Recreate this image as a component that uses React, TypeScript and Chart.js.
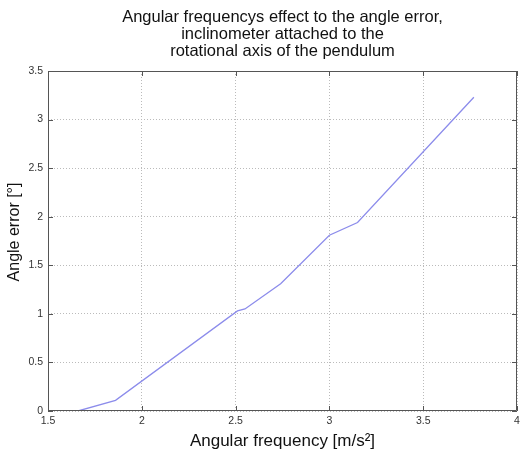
import React, { useEffect, useRef } from "react";
import { Chart, registerables } from "chart.js";

Chart.register(...registerables);

const titleLines = [
  "Angular frequencys effect to the angle error,",
  "inclinometer attached to the",
  "rotational axis of the pendulum",
];
const xLabel = "Angular frequency [m/s²]";
const yLabel = "Angle error [°]";

const frequency = [1.66, 1.86, 2.51, 2.55, 2.74, 3.0, 3.15, 3.77];
const angleError = [0, 0.11, 1.03, 1.05, 1.31, 1.81, 1.94, 3.23];

const xMin = 1.5, xMax = 4, xStep = 0.5;
const yMin = 0, yMax = 3.5, yStep = 0.5;

const FONT = "Arial, 'Liberation Sans', sans-serif";

const boxPlugin = {
  id: "matlabBox",
  afterDatasetsDraw(chart: any) {
    const { ctx, chartArea: a, scales } = chart;
    const x = scales.x, y = scales.y;
    ctx.save();
    ctx.strokeStyle = "#555";
    ctx.lineWidth = 1;
    ctx.beginPath();
    ctx.rect(a.left + 0.5, a.top + 0.5, a.right - a.left - 1, a.bottom - a.top - 1);
    ctx.stroke();
    const L = 5;
    ctx.beginPath();
    for (let v = xMin; v <= xMax + 1e-9; v += xStep) {
      const px = Math.round(x.getPixelForValue(v)) + 0.5;
      ctx.moveTo(px, a.bottom); ctx.lineTo(px, a.bottom - L);
      ctx.moveTo(px, a.top); ctx.lineTo(px, a.top + L);
    }
    for (let v = yMin; v <= yMax + 1e-9; v += yStep) {
      const py = Math.round(y.getPixelForValue(v)) + 0.5;
      ctx.moveTo(a.left, py); ctx.lineTo(a.left + L, py);
      ctx.moveTo(a.right, py); ctx.lineTo(a.right - L, py);
    }
    ctx.stroke();
    // y axis title
    ctx.translate(15, (a.top + a.bottom) / 2 - 9);
    ctx.rotate(-Math.PI / 2);
    ctx.fillStyle = "#111";
    ctx.font = `16px ${FONT}`;
    ctx.textAlign = "center";
    ctx.textBaseline = "middle";
    ctx.fillText(yLabel, 0, 0);
    ctx.restore();
  },
};

export default function App() {
  const ref = useRef<HTMLCanvasElement | null>(null);
  useEffect(() => {
    if (!ref.current) return;
    const chart = new Chart(ref.current, {
      type: "line",
      data: {
        datasets: [
          {
            data: frequency.map((f, i) => ({ x: f, y: angleError[i] })),
            borderColor: "rgb(140,140,235)",
            borderWidth: 1.3,
            pointRadius: 0,
            tension: 0,
            fill: false,
          },
        ],
      },
      options: {
        animation: false,
        responsive: true,
        maintainAspectRatio: false,
        layout: { padding: { left: 0, right: 3, top: 0, bottom: 0 } },
        plugins: {
          legend: { display: false },
          tooltip: { enabled: false },
          title: {
            display: true,
            fullSize: false,
            text: titleLines,
            color: "#111",
            font: { family: FONT, size: 16.5, weight: "normal", lineHeight: "17px" },
            padding: { top: 9, bottom: 11 },
          },
        },
        scales: {
          x: {
            type: "linear",
            min: xMin,
            max: xMax,
            border: { display: false, dash: [1, 2] },
            grid: { color: "#bbb", lineWidth: 1, drawTicks: false },
            ticks: {
              stepSize: xStep,
              padding: 4,
              color: "#333",
              font: { family: FONT, size: 10.5 },
              maxRotation: 0,
              callback: (v: any) => String(v),
            },
            title: {
              display: true,
              text: xLabel,
              color: "#111",
              font: { family: FONT, size: 17 },
              padding: { top: 0, bottom: 0 },
            },
            afterFit: (s: any) => {
              s.height = 41;
              s.paddingRight = 0;
              s.paddingLeft = 0;
            },
          },
          y: {
            type: "linear",
            min: yMin,
            max: yMax,
            border: { display: false, dash: [1, 2] },
            grid: { color: "#bbb", lineWidth: 1, drawTicks: false },
            ticks: {
              stepSize: yStep,
              padding: 5,
              color: "#333",
              font: { family: FONT, size: 10.5 },
              callback: (v: any) => String(v),
            },
            title: { display: false },
            afterFit: (s: any) => {
              s.width = 48;
              s.paddingTop = 0;
              s.paddingBottom = 0;
            },
          },
        },
      },
      plugins: [boxPlugin],
    });
    return () => chart.destroy();
  }, []);
  return (
    <div style={{ position: "absolute", left: 0, top: 0, width: 520, height: 452, background: "#fff" }}>
      <canvas ref={ref} />
    </div>
  );
}
